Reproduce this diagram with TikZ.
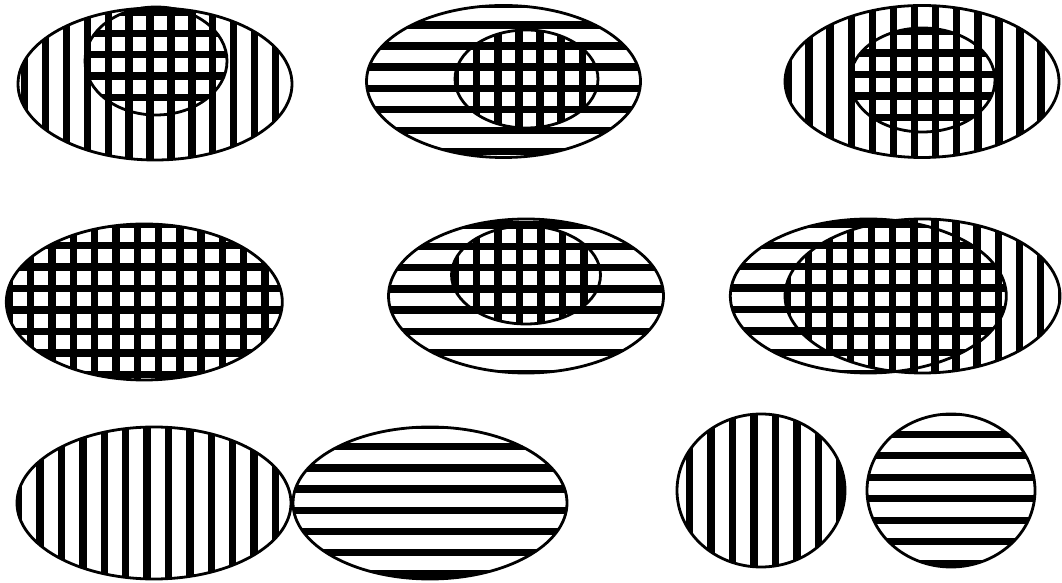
\documentclass[tikz,border=0pt]{standalone}
\tikzset{bar/.style={line width=7.4pt}, rim/.style={line width=2.8pt}}
\newcommand{\Vbars}[6]{%
  \begin{scope}
    \clip (#1,{583-#2}) ellipse [x radius=#3, y radius=#4];
    \foreach \k in {-16,...,16}
      \draw[bar] ({#5+\k*#6},{583-#2-#4-3}) -- ({#5+\k*#6},{583-#2+#4+3});
  \end{scope}}
\newcommand{\Hbars}[6]{%
  \begin{scope}
    \clip (#1,{583-#2}) ellipse [x radius=#3, y radius=#4];
    \foreach \k in {-16,...,16}
      \draw[bar] ({#1-#3-3},{583-(#5+\k*#6)}) -- ({#1+#3+3},{583-(#5+\k*#6)});
  \end{scope}}
\newcommand{\Rim}[4]{\draw[rim] (#1,{583-#2}) ellipse [x radius=#3, y radius=#4];}
\begin{document}
\begin{tikzpicture}[x=1pt,y=1pt]
\fill[white] (0,0) rectangle (1062,583);
\useasboundingbox (0,0) rectangle (1062,583);
% panel 1
\Vbars{155}{84}{137}{76}{150}{20.9}
\Hbars{156}{61}{71}{54}{12}{21.4}
\Rim{155}{84}{137}{76}
\Rim{156}{61}{71}{54}
% panel 2
\Hbars{503.5}{81.5}{137}{76}{25}{21.1}
\Vbars{526.5}{79}{71.5}{49}{476.7}{21.1}
\Rim{503.5}{81.5}{137}{76}
\Rim{526.5}{79}{71.5}{49}
% panel 3
\Vbars{922}{81.5}{137}{76}{809}{21.1}
\Hbars{922.5}{80}{72.5}{52}{31.7}{21.4}
\Rim{922}{81.5}{137}{76}
\Rim{922.5}{80}{72.5}{52}
% panel 4
\Vbars{144.3}{302}{138}{78}{30.7}{21.3}
\Hbars{144.3}{302}{138}{78}{245.7}{21.5}
\Rim{144.3}{302}{138}{78}
% panel 5
\Hbars{526}{296}{137.5}{77}{225}{21.3}
\Vbars{526}{275}{74.5}{49}{455}{21.5}
\Rim{526}{296}{137.5}{77}
\Rim{526}{275}{74.5}{49}
% panel 6
\Hbars{868.3}{296}{138}{77}{224}{21.4}
\Vbars{922.5}{296}{137.5}{77}{808.3}{21.1}
\Rim{868.3}{296}{138}{77}
\Rim{922.5}{296}{137.5}{77}
% panel 7
\Vbars{154}{503}{137}{76}{147}{21.4}
\Hbars{430}{503}{137}{76}{446.7}{21.2}
\Rim{154}{503}{137}{76}
\Rim{430}{503}{137}{76}
% panel 8
\Vbars{761}{490.5}{84}{76.5}{689.3}{21.5}
\Hbars{951}{490.5}{84}{76.5}{434.3}{21.5}
\Rim{761}{490.5}{84}{76.5}
\Rim{951}{490.5}{84}{76.5}
\end{tikzpicture}
\end{document}
